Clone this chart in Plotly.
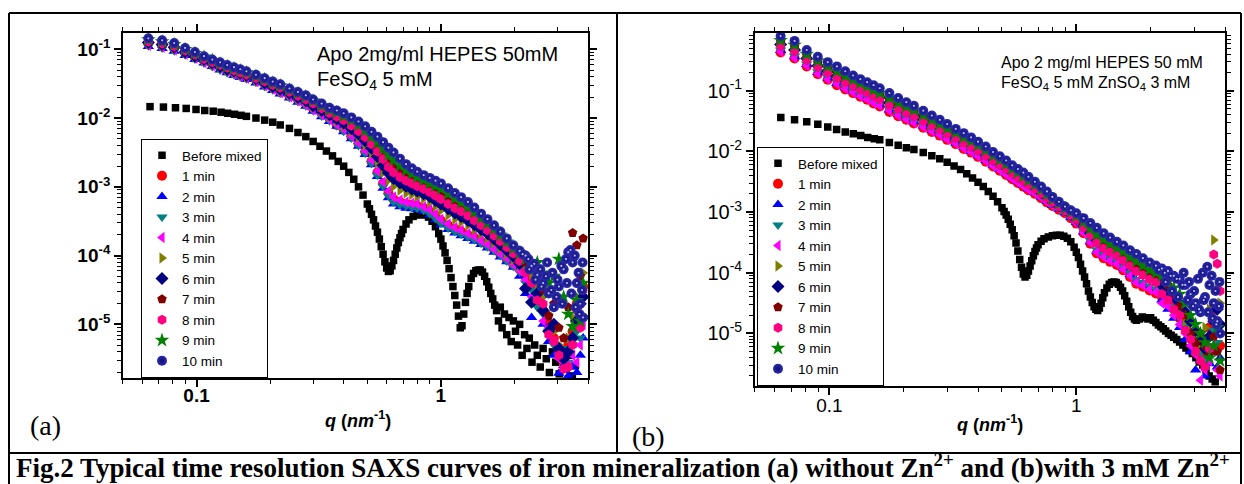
import plotly.graph_objects as go

W, H = 1244, 484

# ---------------- DATA (log10 of intensity) ----------------
series_names = ["Before mixed", "1 min", "2 min", "3 min", "4 min", "5 min",
                "6 min", "7 min", "8 min", "9 min", "10 min"]

# ---- panel (a): without Zn2+ ----
q_black_a = [0.0645, 0.0732, 0.082, 0.0907, 0.0995, 0.108, 0.117, 0.126, 0.134, 0.143, 0.152, 0.160,
             0.175, 0.19, 0.205, 0.22, 0.24, 0.26, 0.28, 0.30, 0.32, 0.34, 0.36, 0.38, 0.40, 0.42, 0.44,
             0.46, 0.48, 0.50, 0.51, 0.52, 0.53, 0.54, 0.55, 0.56, 0.57, 0.58, 0.59, 0.60, 0.61, 0.62,
             0.63, 0.64, 0.65, 0.66, 0.67, 0.68, 0.69, 0.70, 0.72, 0.74, 0.77, 0.80, 0.83, 0.86, 0.89,
             0.92, 0.95, 0.98, 1.00, 1.02, 1.04, 1.06, 1.08, 1.10, 1.12, 1.14, 1.16, 1.18, 1.20, 1.22,
             1.24, 1.26, 1.28, 1.30, 1.33, 1.36, 1.39, 1.42, 1.45, 1.48, 1.51, 1.54, 1.57, 1.60, 1.63,
             1.66, 1.69, 1.72, 1.75, 1.78, 1.82, 1.86, 1.90, 1.94, 1.98, 2.02, 2.06, 2.10, 2.15, 2.20,
             2.25, 2.30, 2.36, 2.42, 2.48, 2.55, 2.62, 2.70, 2.78, 2.86, 2.95, 3.05, 3.15, 3.25, 3.35,
             3.45, 3.55]
logI_black_a = [-1.834, -1.84, -1.85, -1.86, -1.875, -1.89, -1.90, -1.915, -1.93, -1.945, -1.96, -1.975,
                -2.00, -2.03, -2.06, -2.10, -2.15, -2.21, -2.27, -2.34, -2.41, -2.48, -2.55, -2.63, -2.70,
                -2.79, -2.89, -3.00, -3.12, -3.25, -3.32, -3.40, -3.48, -3.57, -3.66, -3.76, -3.87, -3.98,
                -4.09, -4.18, -4.23, -4.22, -4.15, -4.07, -3.98, -3.89, -3.81, -3.74, -3.68, -3.62, -3.54,
                -3.48, -3.43, -3.41, -3.40, -3.41, -3.44, -3.50, -3.58, -3.68, -3.76, -3.86, -3.96, -4.07,
                -4.19, -4.32, -4.45, -4.58, -4.72, -4.88, -5.05, -5.02, -4.85, -4.68, -4.55, -4.45, -4.33,
                -4.26, -4.22, -4.21, -4.21, -4.24, -4.30, -4.38, -4.46, -4.55, -4.63, -4.72, -4.80, -4.95,
                -4.75, -5.05, -4.85, -5.15, -4.90, -5.25, -4.95, -5.10, -5.30, -5.00, -5.45, -5.15, -5.35,
                -5.20, -5.55, -5.30, -5.45, -5.62, -5.35, -5.50, -5.70, -5.40, -5.55, -5.72, -5.50, -5.65,
                -5.45, -5.75, -5.60]

q_a = [0.0635, 0.0723, 0.081, 0.0898, 0.0985, 0.1073, 0.116, 0.1248, 0.1335, 0.1423, 0.151, 0.16,
       0.175, 0.19, 0.205, 0.22, 0.24, 0.26, 0.28, 0.30, 0.325, 0.35, 0.375, 0.40, 0.43, 0.46, 0.49,
       0.52, 0.55, 0.58, 0.61, 0.64, 0.68, 0.72, 0.76, 0.80, 0.85, 0.90, 0.95, 1.00, 1.07, 1.14, 1.21,
       1.29, 1.37, 1.46, 1.55, 1.65, 1.75, 1.86, 1.98, 2.10, 2.22, 2.35, 2.48, 2.62, 2.76, 2.90, 3.04,
       3.18, 3.32, 3.46, 3.60, 3.72, 3.82]

logI_1min_a = [-0.91, -0.94, -0.98, -1.05, -1.11, -1.16, -1.21, -1.26, -1.30, -1.33, -1.36, -1.39, -1.44,
               -1.50, -1.55, -1.62, -1.68, -1.73, -1.79, -1.86, -1.93, -2.00, -2.10, -2.17, -2.27, -2.37,
               -2.49, -2.63, -2.79, -2.95, -3.09, -3.18, -3.22, -3.25, -3.26, -3.28, -3.31, -3.36, -3.42,
               -3.49, -3.56, -3.61, -3.65, -3.70, -3.74, -3.80, -3.85, -3.91, -3.98, -4.06, -4.14, -4.20,
               -4.30, -4.45, -4.60, -4.80, -5.00, -5.20, -5.40, -5.55, -5.30, -5.10, -4.70, -5.00, -4.45]
logI_2min_a = [-0.96, -0.99, -1.03, -1.09, -1.15, -1.20, -1.25, -1.30, -1.34, -1.38, -1.41, -1.44, -1.49,
               -1.55, -1.60, -1.65, -1.71, -1.77, -1.83, -1.90, -1.98, -2.05, -2.12, -2.20, -2.30, -2.41,
               -2.53, -2.68, -2.85, -3.02, -3.16, -3.25, -3.29, -3.31, -3.32, -3.33, -3.36, -3.41, -3.48,
               -3.55, -3.62, -3.67, -3.71, -3.75, -3.79, -3.84, -3.89, -3.95, -4.02, -4.09, -4.17, -4.30,
               -4.55, -4.90, -4.70, -5.00, -5.25, -5.45, -5.71, -5.60, -5.75, -5.62, -5.70, -5.45, -5.20]
logI_3min_a = [-0.95, -0.98, -1.02, -1.08, -1.14, -1.20, -1.25, -1.30, -1.34, -1.37, -1.40, -1.43, -1.48,
               -1.54, -1.59, -1.64, -1.70, -1.76, -1.82, -1.89, -1.97, -2.04, -2.11, -2.19, -2.29, -2.40,
               -2.51, -2.66, -2.83, -2.99, -3.13, -3.22, -3.26, -3.28, -3.30, -3.31, -3.34, -3.39, -3.46,
               -3.53, -3.60, -3.65, -3.69, -3.73, -3.77, -3.82, -3.87, -3.93, -4.00, -4.08, -4.16, -4.24,
               -4.40, -4.50, -4.75, -4.85, -5.10, -5.30, -5.45, -5.35, -5.55, -5.30, -5.10, -5.20, -4.90]
logI_4min_a = [-0.94, -0.97, -1.01, -1.07, -1.13, -1.19, -1.24, -1.28, -1.32, -1.36, -1.39, -1.42, -1.47,
               -1.53, -1.58, -1.63, -1.69, -1.75, -1.81, -1.88, -1.95, -2.02, -2.09, -2.16, -2.26, -2.36,
               -2.47, -2.61, -2.77, -2.93, -3.06, -3.15, -3.19, -3.22, -3.24, -3.25, -3.29, -3.33, -3.40,
               -3.47, -3.54, -3.59, -3.63, -3.68, -3.72, -3.78, -3.83, -3.90, -3.97, -4.04, -4.13, -4.22,
               -4.35, -4.60, -4.55, -4.95, -5.05, -5.25, -5.50, -5.62, -5.60, -5.45, -5.55, -5.30, -5.00]
logI_5min_a = [-0.92, -0.95, -0.99, -1.05, -1.11, -1.17, -1.22, -1.26, -1.30, -1.34, -1.37, -1.40, -1.45,
               -1.50, -1.55, -1.60, -1.66, -1.72, -1.77, -1.84, -1.91, -1.98, -2.04, -2.11, -2.19, -2.28,
               -2.39, -2.51, -2.65, -2.79, -2.90, -2.99, -3.05, -3.09, -3.11, -3.14, -3.17, -3.22, -3.28,
               -3.34, -3.41, -3.47, -3.51, -3.56, -3.62, -3.68, -3.74, -3.81, -3.89, -3.97, -4.06, -4.15,
               -4.20, -4.30, -4.45, -4.60, -4.85, -5.10, -5.30, -5.45, -5.20, -4.90, -4.60, -4.40, -4.25]
logI_6min_a = [-0.90, -0.93, -0.97, -1.04, -1.10, -1.15, -1.20, -1.25, -1.29, -1.32, -1.35, -1.38, -1.43,
               -1.49, -1.54, -1.58, -1.64, -1.70, -1.75, -1.82, -1.89, -1.95, -2.01, -2.07, -2.15, -2.23,
               -2.33, -2.44, -2.56, -2.69, -2.80, -2.88, -2.94, -2.99, -3.03, -3.06, -3.10, -3.14, -3.20,
               -3.25, -3.32, -3.38, -3.43, -3.49, -3.55, -3.62, -3.68, -3.76, -3.84, -3.92, -4.01, -4.12,
               -4.48, -4.68, -4.55, -4.80, -5.10, -5.00, -5.35, -5.50, -5.40, -5.20, -4.95, -4.70, -4.60]
logI_7min_a = [-0.87, -0.90, -0.94, -1.01, -1.07, -1.13, -1.18, -1.22, -1.26, -1.29, -1.32, -1.35, -1.40,
               -1.46, -1.51, -1.55, -1.61, -1.66, -1.71, -1.78, -1.84, -1.91, -1.95, -2.01, -2.08, -2.15,
               -2.23, -2.33, -2.43, -2.54, -2.63, -2.71, -2.79, -2.85, -2.90, -2.93, -2.98, -3.02, -3.07,
               -3.12, -3.19, -3.25, -3.31, -3.37, -3.44, -3.52, -3.59, -3.67, -3.75, -3.85, -3.94, -4.02,
               -4.10, -4.20, -4.35, -4.50, -4.88, -4.70, -5.05, -5.20, -4.75, -3.67, -3.85, -4.30, -3.75]
logI_8min_a = [-0.89, -0.92, -0.96, -1.02, -1.08, -1.14, -1.19, -1.23, -1.27, -1.31, -1.34, -1.37, -1.42,
               -1.47, -1.52, -1.56, -1.62, -1.68, -1.73, -1.79, -1.86, -1.93, -1.98, -2.03, -2.11, -2.19,
               -2.28, -2.38, -2.49, -2.60, -2.71, -2.79, -2.86, -2.91, -2.95, -2.99, -3.03, -3.08, -3.13,
               -3.18, -3.25, -3.31, -3.36, -3.42, -3.49, -3.56, -3.63, -3.71, -3.79, -3.88, -3.97, -4.08,
               -4.25, -4.40, -4.65, -4.70, -5.15, -5.25, -5.45, -5.65, -5.62, -5.30, -4.80, -5.05, -4.50]
logI_9min_a = [-0.86, -0.89, -0.93, -1.00, -1.06, -1.11, -1.16, -1.21, -1.25, -1.28, -1.31, -1.34, -1.39,
               -1.44, -1.49, -1.53, -1.59, -1.64, -1.69, -1.75, -1.82, -1.88, -1.92, -1.97, -2.03, -2.10,
               -2.18, -2.27, -2.35, -2.44, -2.53, -2.61, -2.69, -2.76, -2.81, -2.86, -2.90, -2.95, -2.99,
               -3.03, -3.10, -3.17, -3.23, -3.29, -3.37, -3.45, -3.53, -3.61, -3.70, -3.80, -3.89, -3.97,
               -4.05, -4.12, -4.10, -4.25, -4.40, -4.30, -4.05, -4.60, -4.85, -5.03, -4.65, -4.95, -4.40]
logI_10min_a = [-0.84, -0.87, -0.91, -0.98, -1.04, -1.10, -1.15, -1.19, -1.23, -1.26, -1.29, -1.32, -1.37,
                -1.42, -1.47, -1.51, -1.57, -1.62, -1.67, -1.73, -1.79, -1.85, -1.89, -1.93, -1.99, -2.05,
                -2.12, -2.20, -2.27, -2.35, -2.43, -2.50, -2.59, -2.67, -2.73, -2.78, -2.83, -2.87, -2.91,
                -2.95, -3.02, -3.09, -3.15, -3.22, -3.30, -3.39, -3.47, -3.56, -3.65, -3.75, -3.85, -3.93,
                -4.00, -4.15, -4.28, -4.40, -4.55, -4.75, -4.45, -4.20, -3.95, -4.10, -4.40, -4.70, -4.90]
# extra scattered 10-min points of the noisy high-q cloud
q_10min_extra_a = [2.16, 2.28, 2.30, 2.41, 2.44, 2.55, 2.58, 2.69, 2.72, 2.83, 2.86, 2.97, 3.00, 3.11,
                   3.14, 3.25, 3.28, 3.39, 3.42, 3.53, 3.56, 3.66, 3.69, 3.78, 3.80]
logI_10min_extra_a = [-3.98, -4.05, -4.20, -4.12, -4.35, -4.20, -4.45, -4.30, -4.10, -4.50, -4.25, -4.60,
                      -4.35, -4.15, -4.70, -4.05, -4.40, -3.92, -4.55, -4.00, -4.75, -4.25, -4.85, -4.50,
                      -4.10]

# ---- panel (b): with 3 mM Zn2+ ----
q_black_b = [0.0636, 0.0723, 0.081, 0.0898, 0.0985, 0.107, 0.116, 0.125, 0.134, 0.143, 0.152, 0.160,
             0.175, 0.19, 0.205, 0.22, 0.24, 0.26, 0.28, 0.30, 0.32, 0.34, 0.36, 0.38, 0.40, 0.42, 0.44,
             0.46, 0.48, 0.50, 0.51, 0.52, 0.53, 0.54, 0.55, 0.56, 0.57, 0.58, 0.59, 0.60, 0.61, 0.62,
             0.63, 0.64, 0.65, 0.66, 0.67, 0.68, 0.69, 0.70, 0.72, 0.74, 0.77, 0.80, 0.83, 0.86, 0.89,
             0.92, 0.95, 0.98, 1.00, 1.02, 1.04, 1.06, 1.08, 1.10, 1.12, 1.14, 1.16, 1.18, 1.20, 1.22,
             1.24, 1.26, 1.28, 1.30, 1.33, 1.36, 1.39, 1.42, 1.45, 1.48, 1.51, 1.54, 1.57, 1.60, 1.63,
             1.66, 1.69, 1.72, 1.75, 1.80, 1.85, 1.90, 1.95, 2.00, 2.05, 2.10, 2.15, 2.20, 2.25, 2.30,
             2.36, 2.42, 2.48, 2.55, 2.62, 2.70, 2.78, 2.86, 2.95, 3.05, 3.15, 3.25, 3.35, 3.45, 3.55,
             3.65]
logI_black_b = [-1.44, -1.48, -1.51, -1.555, -1.60, -1.64, -1.68, -1.71, -1.74, -1.77, -1.79, -1.81,
                -1.855, -1.90, -1.94, -1.97, -2.02, -2.07, -2.12, -2.18, -2.24, -2.30, -2.37, -2.44, -2.51,
                -2.58, -2.66, -2.74, -2.83, -2.93, -2.99, -3.05, -3.12, -3.20, -3.29, -3.39, -3.51, -3.64,
                -3.78, -3.91, -4.02, -4.07, -4.04, -3.97, -3.89, -3.80, -3.72, -3.65, -3.59, -3.54, -3.48,
                -3.44, -3.41, -3.39, -3.38, -3.38, -3.40, -3.43, -3.49, -3.58, -3.66, -3.75, -3.86, -3.97,
                -4.07, -4.18, -4.30, -4.40, -4.49, -4.56, -4.60, -4.62, -4.58, -4.50, -4.41, -4.33, -4.25,
                -4.19, -4.16, -4.15, -4.16, -4.19, -4.24, -4.30, -4.38, -4.47, -4.56, -4.65, -4.72, -4.76,
                -4.78, -4.76, -4.73, -4.74, -4.76, -4.74, -4.78, -4.82, -4.86, -4.89, -4.92, -4.96, -5.00,
                -5.03, -5.06, -5.10, -5.14, -5.19, -5.24, -5.28, -5.33, -5.40, -5.47, -5.52, -5.60, -5.70,
                -5.75, -5.80]

q_b = [0.0635, 0.0723, 0.081, 0.0898, 0.0985, 0.1073, 0.116, 0.1248, 0.1335, 0.1423, 0.151, 0.16,
       0.175, 0.19, 0.205, 0.22, 0.24, 0.26, 0.28, 0.30, 0.325, 0.35, 0.375, 0.40, 0.43, 0.46, 0.49,
       0.52, 0.55, 0.58, 0.61, 0.64, 0.68, 0.72, 0.76, 0.80, 0.85, 0.90, 0.95, 1.00, 1.07, 1.14, 1.21,
       1.29, 1.37, 1.46, 1.55, 1.65, 1.75, 1.86, 1.98, 2.10, 2.22, 2.35, 2.48, 2.62, 2.76, 2.90, 3.04,
       3.18, 3.32, 3.46, 3.60, 3.72, 3.82]

logI_1min_b = [-0.37, -0.47, -0.60, -0.73, -0.82, -0.91, -0.98, -1.04, -1.10, -1.15, -1.21, -1.26, -1.35,
               -1.42, -1.48, -1.54, -1.61, -1.68, -1.74, -1.81, -1.88, -1.96, -2.02, -2.09, -2.17, -2.25,
               -2.32, -2.39, -2.46, -2.52, -2.58, -2.64, -2.70, -2.77, -2.84, -2.90, -2.96, -3.02, -3.10,
               -3.19, -3.35, -3.52, -3.68, -3.76, -3.82, -3.87, -3.96, -4.07, -4.18, -4.23, -4.29, -4.34,
               -4.40, -4.50, -4.60, -4.75, -4.90, -5.05, -5.20, -5.35, -5.10, -4.90, -4.60, -4.80, -5.20]
logI_2min_b = [-0.34, -0.44, -0.57, -0.70, -0.79, -0.88, -0.95, -1.01, -1.07, -1.12, -1.18, -1.23, -1.32,
               -1.39, -1.45, -1.51, -1.58, -1.65, -1.71, -1.78, -1.86, -1.93, -2.00, -2.07, -2.15, -2.23,
               -2.30, -2.37, -2.44, -2.50, -2.56, -2.62, -2.68, -2.75, -2.82, -2.89, -2.95, -3.01, -3.09,
               -3.17, -3.33, -3.49, -3.64, -3.72, -3.78, -3.83, -3.92, -4.03, -4.13, -4.18, -4.24, -4.29,
               -4.45, -4.60, -4.75, -4.90, -5.10, -5.30, -5.60, -5.45, -5.70, -5.50, -5.30, -5.55, -5.40]
logI_3min_b = [-0.33, -0.43, -0.56, -0.69, -0.78, -0.86, -0.94, -1.00, -1.06, -1.11, -1.17, -1.22, -1.30,
               -1.38, -1.44, -1.50, -1.57, -1.64, -1.70, -1.77, -1.84, -1.92, -1.98, -2.05, -2.13, -2.21,
               -2.28, -2.35, -2.43, -2.49, -2.55, -2.61, -2.67, -2.74, -2.81, -2.88, -2.94, -3.00, -3.08,
               -3.16, -3.31, -3.47, -3.62, -3.70, -3.76, -3.81, -3.90, -4.00, -4.11, -4.16, -4.22, -4.27,
               -4.30, -4.40, -4.55, -4.65, -4.85, -5.00, -5.15, -5.30, -5.40, -5.20, -4.95, -5.15, -5.00]
logI_4min_b = [-0.36, -0.46, -0.59, -0.72, -0.81, -0.89, -0.97, -1.03, -1.09, -1.14, -1.20, -1.25, -1.33,
               -1.41, -1.47, -1.53, -1.60, -1.67, -1.73, -1.80, -1.87, -1.95, -2.01, -2.08, -2.16, -2.24,
               -2.31, -2.38, -2.45, -2.51, -2.57, -2.63, -2.69, -2.76, -2.83, -2.89, -2.95, -3.01, -3.09,
               -3.18, -3.34, -3.50, -3.66, -3.74, -3.80, -3.85, -3.94, -4.05, -4.16, -4.21, -4.27, -4.32,
               -4.50, -4.55, -4.70, -4.85, -5.00, -5.20, -5.35, -5.77, -5.60, -5.45, -5.20, -5.60, -5.70]
logI_5min_b = [-0.22, -0.31, -0.45, -0.57, -0.66, -0.74, -0.82, -0.88, -0.94, -0.99, -1.05, -1.10, -1.18,
               -1.26, -1.32, -1.38, -1.46, -1.53, -1.60, -1.67, -1.74, -1.82, -1.88, -1.95, -2.03, -2.12,
               -2.19, -2.26, -2.33, -2.39, -2.45, -2.52, -2.59, -2.67, -2.74, -2.82, -2.89, -2.96, -3.03,
               -3.10, -3.21, -3.33, -3.45, -3.53, -3.60, -3.66, -3.73, -3.83, -3.91, -3.97, -4.04, -4.09,
               -4.15, -4.25, -4.35, -4.70, -4.80, -4.95, -5.10, -5.25, -4.90, -4.60, -3.46, -4.20, -4.50]
logI_6min_b = [-0.24, -0.33, -0.47, -0.59, -0.68, -0.76, -0.83, -0.90, -0.96, -1.01, -1.06, -1.11, -1.20,
               -1.27, -1.34, -1.40, -1.47, -1.55, -1.61, -1.68, -1.76, -1.83, -1.90, -1.97, -2.05, -2.13,
               -2.20, -2.27, -2.35, -2.41, -2.47, -2.53, -2.60, -2.68, -2.75, -2.83, -2.90, -2.96, -3.04,
               -3.11, -3.23, -3.35, -3.47, -3.56, -3.62, -3.68, -3.76, -3.85, -3.94, -4.00, -4.06, -4.11,
               -4.20, -4.30, -4.40, -4.50, -4.65, -4.80, -4.95, -5.10, -5.25, -5.05, -4.80, -4.60, -4.85]
logI_7min_b = [-0.19, -0.28, -0.42, -0.54, -0.63, -0.71, -0.79, -0.85, -0.91, -0.96, -1.02, -1.07, -1.15,
               -1.23, -1.29, -1.35, -1.43, -1.50, -1.57, -1.64, -1.72, -1.79, -1.86, -1.93, -2.01, -2.09,
               -2.16, -2.23, -2.31, -2.37, -2.43, -2.50, -2.57, -2.65, -2.72, -2.80, -2.88, -2.95, -3.02,
               -3.08, -3.19, -3.30, -3.41, -3.49, -3.56, -3.62, -3.69, -3.78, -3.86, -3.92, -3.99, -4.04,
               -4.10, -4.20, -4.35, -4.55, -4.70, -5.00, -5.15, -5.00, -5.20, -5.35, -5.05, -5.30, -5.60]
logI_8min_b = [-0.26, -0.35, -0.49, -0.61, -0.70, -0.79, -0.86, -0.92, -0.98, -1.03, -1.09, -1.14, -1.23,
               -1.30, -1.36, -1.42, -1.50, -1.57, -1.64, -1.71, -1.78, -1.86, -1.92, -1.99, -2.07, -2.15,
               -2.22, -2.29, -2.37, -2.43, -2.49, -2.55, -2.62, -2.69, -2.77, -2.84, -2.91, -2.98, -3.05,
               -3.12, -3.25, -3.38, -3.51, -3.60, -3.66, -3.72, -3.80, -3.89, -3.98, -4.04, -4.11, -4.16,
               -4.35, -4.45, -4.60, -4.70, -4.95, -5.10, -5.30, -5.45, -5.55, -5.25, -3.70, -3.85, -4.30]
logI_9min_b = [-0.17, -0.25, -0.40, -0.51, -0.60, -0.68, -0.76, -0.82, -0.88, -0.93, -0.99, -1.04, -1.12,
               -1.20, -1.26, -1.32, -1.40, -1.48, -1.55, -1.62, -1.69, -1.77, -1.83, -1.90, -1.98, -2.07,
               -2.14, -2.21, -2.29, -2.35, -2.41, -2.48, -2.55, -2.63, -2.71, -2.79, -2.86, -2.94, -3.00,
               -3.06, -3.16, -3.27, -3.37, -3.45, -3.52, -3.59, -3.65, -3.74, -3.81, -3.88, -3.95, -4.00,
               -4.05, -4.15, -4.25, -4.35, -4.50, -4.70, -4.85, -5.00, -5.15, -5.40, -5.20, -4.90, -5.45]
logI_10min_b = [-0.10, -0.18, -0.33, -0.44, -0.53, -0.60, -0.68, -0.75, -0.81, -0.86, -0.91, -0.96, -1.04,
                -1.12, -1.19, -1.25, -1.33, -1.41, -1.48, -1.55, -1.63, -1.70, -1.77, -1.84, -1.92, -2.01,
                -2.08, -2.15, -2.23, -2.29, -2.35, -2.42, -2.50, -2.58, -2.66, -2.75, -2.83, -2.91, -2.97,
                -3.02, -3.10, -3.18, -3.26, -3.35, -3.42, -3.49, -3.55, -3.63, -3.69, -3.76, -3.83, -3.88,
                -3.93, -3.97, -4.05, -4.10, -4.20, -4.35, -4.50, -4.65, -4.40, -4.20, -4.50, -4.80, -5.00]
q_10min_extra_b = [2.16, 2.28, 2.30, 2.41, 2.44, 2.55, 2.58, 2.69, 2.72, 2.83, 2.86, 2.97, 3.00, 3.11,
                   3.14, 3.25, 3.28, 3.39, 3.42, 3.53, 3.56, 3.66, 3.69, 3.78, 3.80]
logI_10min_extra_b = [-3.95, -4.00, -4.15, -4.05, -4.30, -4.10, -4.40, -4.20, -4.00, -4.45, -4.15, -4.55,
                      -4.30, -4.10, -4.60, -4.00, -4.45, -3.90, -4.65, -4.05, -4.75, -4.30, -4.85, -4.55,
                      -4.15]

y_tick_vals = [1e-1, 1e-2, 1e-3, 1e-4, 1e-5]
y_tick_text = ["10<sup>-1</sup>", "10<sup>-2</sup>", "10<sup>-3</sup>", "10<sup>-4</sup>", "10<sup>-5</sup>"]
x_tick_vals = [0.1, 1]
x_tick_text = ["0.1", "1"]

# ---------------- STYLE ----------------
SANS = "Liberation Sans, Arial, sans-serif"
SERIF = "Liberation Serif, Times New Roman, serif"
styles = [
    dict(symbol="square", color="#000000", size=7.5),
    dict(symbol="circle", color="#FF0000", size=10),
    dict(symbol="triangle-up", color="#0000FF", size=10),
    dict(symbol="triangle-down", color="#008080", size=10),
    dict(symbol="triangle-left", color="#FF00FF", size=10),
    dict(symbol="triangle-right", color="#808000", size=10),
    dict(symbol="diamond", color="#000080", size=10),
    dict(symbol="pentagon", color="#800000", size=10),
    dict(symbol="hexagon", color="#FF0080", size=10),
    dict(symbol="star", color="#008000", size=11),
    dict(symbol="circle", color="#2A2AB0", size=10),
]

def to_I(vals):
    return [10 ** v for v in vals]

panels = {
    "a": dict(xaxis="x", yaxis="y", legend="legend",
              black=(q_black_a, logI_black_a), q=q_a,
              series=[logI_1min_a, logI_2min_a, logI_3min_a, logI_4min_a, logI_5min_a,
                      logI_6min_a, logI_7min_a, logI_8min_a, logI_9min_a, logI_10min_a],
              extra=(q_10min_extra_a, logI_10min_extra_a)),
    "b": dict(xaxis="x2", yaxis="y2", legend="legend2",
              black=(q_black_b, logI_black_b), q=q_b,
              series=[logI_1min_b, logI_2min_b, logI_3min_b, logI_4min_b, logI_5min_b,
                      logI_6min_b, logI_7min_b, logI_8min_b, logI_9min_b, logI_10min_b],
              extra=(q_10min_extra_b, logI_10min_extra_b)),
}

fig = go.Figure()
for key, p in panels.items():
    qb, lb = p["black"]
    assert len(qb) == len(lb), (key, len(qb), len(lb))
    st = styles[0]
    fig.add_trace(go.Scatter(x=qb, y=to_I(lb), mode="markers", name=series_names[0],
                             xaxis=p["xaxis"], yaxis=p["yaxis"], legend=p["legend"],
                             marker=dict(symbol=st["symbol"], color=st["color"], size=st["size"],
                                         line=dict(width=0))))
    qe, le = p["extra"]
    assert len(qe) == len(le)
    for i, vals in enumerate(p["series"]):
        assert len(vals) == len(p["q"]), (key, i, len(vals))
        st = styles[i + 1]
        xs, ys = list(p["q"]), list(vals)
        marker = dict(symbol=st["symbol"], color=st["color"], size=st["size"], line=dict(width=0))
        if i == 9:
            xs, ys = xs + list(qe), ys + list(le)
            marker["gradient"] = dict(type="radial", color="#101070")
        fig.add_trace(go.Scatter(x=xs, y=to_I(ys), mode="markers", name=series_names[i + 1],
                                 xaxis=p["xaxis"], yaxis=p["yaxis"], legend=p["legend"],
                                 marker=marker))
    # small light highlight of the sphere symbols
    fig.add_trace(go.Scatter(x=list(p["q"]) + list(qe), y=to_I(list(p["series"][9]) + list(le)),
                             mode="markers", showlegend=False, hoverinfo="skip",
                             xaxis=p["xaxis"], yaxis=p["yaxis"],
                             marker=dict(symbol="circle", color="#B8B8F0", size=2.2, line=dict(width=0))))

def px(x):
    return x / W

def py(y):
    return 1 - y / H

minor_x = [0.05, 0.06, 0.07, 0.08, 0.09, 0.2, 0.3, 0.4, 0.5, 0.6, 0.7, 0.8, 0.9, 2, 3, 4]
minor_y = [m * 10.0 ** e for e in range(-6, 0) for m in range(2, 10)]

def xaxis_cfg(domain, bold, size, standoff):
    return dict(type="log", range=[-1.301, 0.602], domain=domain,
                tickmode="array", tickvals=x_tick_vals,
                ticktext=[("<b>%s</b>" % t) if bold else t for t in x_tick_text],
                tickfont=dict(family=SANS, size=size, color="black"), ticklabelstandoff=standoff,
                ticks="outside", ticklen=7, tickwidth=1.5, tickcolor="black",
                minor=dict(tickmode="array", tickvals=minor_x, ticks="outside", ticklen=4,
                           tickwidth=1.2, tickcolor="black", showgrid=False),
                showline=True, linecolor="black", linewidth=1.8, mirror="ticks",
                showgrid=False, zeroline=False)

def yaxis_cfg(domain, rng, bold, anchor, size):
    return dict(type="log", range=rng, domain=domain, anchor=anchor,
                tickmode="array", tickvals=y_tick_vals,
                ticktext=[("<b>%s</b>" % t) if bold else t for t in y_tick_text],
                tickfont=dict(family=SANS, size=size, color="black"),
                ticks="outside", ticklen=7, tickwidth=1.5, tickcolor="black",
                minor=dict(tickmode="array", tickvals=minor_y, ticks="outside", ticklen=4,
                           tickwidth=1.2, tickcolor="black", showgrid=False),
                showline=True, linecolor="black", linewidth=1.8, mirror="ticks",
                showgrid=False, zeroline=False)

legend_common = dict(xanchor="left", yanchor="top", bgcolor="white", bordercolor="black",
                     borderwidth=1, font=dict(family=SANS, size=13.5, color="black"),
                     tracegroupgap=0, itemclick=False)

fig.update_layout(
    width=W, height=H, margin=dict(l=0, r=0, t=0, b=0),
    paper_bgcolor="white", plot_bgcolor="white",
    xaxis=dict(xaxis_cfg([px(123), px(588)], True, 19, -8), anchor="y"),
    yaxis=yaxis_cfg([py(378), py(33)], [-5.78, -0.763], True, "x", 19),
    xaxis2=dict(xaxis_cfg([px(755), px(1225)], False, 19, -5), anchor="y2"),
    yaxis2=yaxis_cfg([py(385.7), py(33)], [-5.86, -0.05], False, "x2", 20),
    legend=dict(legend_common, x=px(141), y=py(139)),
    legend2=dict(legend_common, x=px(757), y=py(147)),
)

def ann(x, y, text, size, family=SANS, xanchor="left"):
    fig.add_annotation(xref="paper", yref="paper", x=px(x), y=py(y), text=text, showarrow=False,
                       xanchor=xanchor, yanchor="middle",
                       font=dict(family=family, size=size, color="black"))

ann(315, 54, "Apo 2mg/ml HEPES 50mM", 20)
ann(315, 80, "FeSO<sub>4</sub> 5 mM", 20)
ann(999, 62, "Apo 2 mg/ml HEPES 50 mM", 16)
ann(999, 83, "FeSO<sub>4</sub> 5 mM ZnSO<sub>4</sub> 3 mM", 16)
ann(358, 419, "<b><i>q</i> (<i>nm</i><sup>-1</sup>)</b>", 18, xanchor="center")
ann(990, 423, "<b><i>q</i> (<i>nm</i><sup>-1</sup>)</b>", 18, xanchor="center")
ann(28, 425, "(a)", 28, family=SERIF)
ann(630, 436, "(b)", 28, family=SERIF)
ann(623, 466, "<b>Fig.2 Typical time resolution SAXS curves of iron mineralization (a) without "
              "Zn<sup>2+</sup> and (b)with 3 mM Zn<sup>2+</sup></b>", 27, family=SERIF, xanchor="center")

def line(x0, y0, x1, y1):
    fig.add_shape(type="line", xref="paper", yref="paper", x0=px(x0), y0=py(y0), x1=px(x1), y1=py(y1),
                  line=dict(color="black", width=2))

line(9, 13, 1241, 13)
line(9, 13, 9, 490)
line(1241, 13, 1241, 490)
line(617, 13, 617, 453)
line(9, 453, 1241, 453)

fig.write_html("out.html", config={"displayModeBar": False},
               post_script="document.body.style.margin='0px';")
